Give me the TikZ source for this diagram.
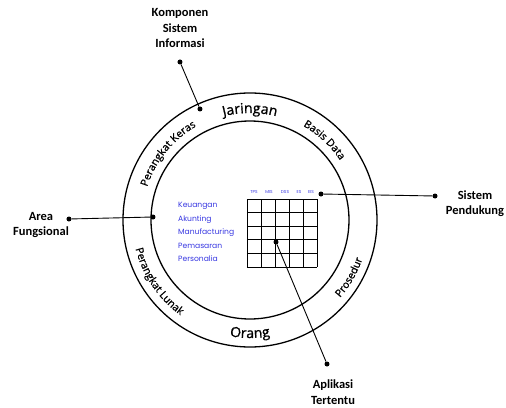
\documentclass[tikz,border=0pt]{standalone}
\usepackage{fontspec}
\setmainfont{Carlito}
\newfontfamily\ringfont[FakeBold=1]{Open Sans}
\newfontfamily\bluefont{Poppins}
\usetikzlibrary{decorations.text}
\definecolor{lblblue}{RGB}{55,55,225}
\begin{document}
\begin{tikzpicture}[x=1pt,y=1pt,
  dot/.style={circle,fill=black,inner sep=0pt,minimum size=5pt},
  lbl/.style={font=\bfseries\fontsize{12.5}{15.5}\selectfont, align=center, inner sep=0pt},
  conn/.style={line width=0.9pt},
  ringline/.style={draw, line width=1.3pt, circle, inner sep=0pt},
  bl/.style={font=\bluefont\fontsize{7.6}{7.6}\selectfont, text=lblblue, anchor=west, inner sep=0pt},
  hd/.style={font=\bluefont\fontsize{4.3}{4.3}\selectfont, text=lblblue, inner sep=0pt},
  gridline/.style={line width=0.7pt}]
\useasboundingbox (-250,-187) rectangle (256,220);
% rings
\node[ringline, minimum size=254pt] (outer) at (0,0) {};
\node[ringline, minimum size=198pt] (inner) at (0,0) {};
% ring labels (top, clockwise)
\path[decorate,decoration={text along path,text align=center,
  text={|\ringfont\fontsize{10.5}{10.5}\selectfont|Perangkat Keras}}]
  (181:108) arc[start angle=181,end angle=101,radius=108];
\path[decorate,decoration={text along path,text align=center,
  text={|\ringfont\fontsize{14}{14}\selectfont|Jaringan}}]
  (130:107) arc[start angle=130,end angle=50,radius=107];
\path[decorate,decoration={text along path,text align=center,
  text={|\ringfont\fontsize{10.5}{10.5}\selectfont|Basis Data}}]
  (87:108) arc[start angle=87,end angle=7,radius=108];
% ring labels (bottom, counterclockwise)
\path[decorate,decoration={text along path,text align=center,
  text={|\ringfont\fontsize{10.5}{10.5}\selectfont|Prosedur}}]
  (-70:119) arc[start angle=-70,end angle=10,radius=119];
\path[decorate,decoration={text along path,text align=center,
  text={|\ringfont\fontsize{14}{14}\selectfont|Orang}}]
  (-130:118) arc[start angle=-130,end angle=-50,radius=118];
\path[decorate,decoration={text along path,text align=center,
  text={|\ringfont\fontsize{10.5}{10.5}\selectfont|Perangkat Lunak}}]
  (-186:118) arc[start angle=-186,end angle=-106,radius=118];
% grid
\foreach \i in {0,...,5} {
  \draw[gridline] (-3+14*\i,21) -- (-3+14*\i,-47);
  \draw[gridline] (-3,21-13.6*\i) -- (67,21-13.6*\i);
}
% header labels
\node[hd] (h1) at (4,28) {TPS};
\node[hd] (h2) at (19,28) {MIS};
\node[hd] (h3) at (35,28) {DSS};
\node[hd] (h4) at (49,28) {ES};
\node[hd] (h5) at (61,28) {EIS};
% blue functional areas
\node[bl] (b1) at (-72,14) {Keuangan};
\node[bl] (b2) at (-72,0.5) {Akunting};
\node[bl] (b3) at (-72,-13) {Manufacturing};
\node[bl] (b4) at (-72,-26) {Pemasaran};
\node[bl] (b5) at (-72,-39) {Personalia};
% callouts
\node[lbl] (komp) at (-70,192) {Komponen\\Sistem\\Informasi};
\node[dot] (kdot) at (-70,158) {};
\node[dot] (rdot) at (-50,111) {};
\draw[conn] (kdot) -- (rdot);

\node[lbl] (area) at (-209,-5) {Area\\Fungsional};
\node[dot] (adot) at (-181,1) {};
\node[dot] (idot) at (-97,3) {};
\draw[conn] (adot) -- (idot);

\node[lbl] (sisp) at (225,16.5) {Sistem\\Pendukung};
\node[dot] (hdot) at (71,26) {};
\node[dot] (spdot) at (185,24) {};
\draw[conn] (hdot) -- (spdot);

\node[lbl] (apl) at (83,-172) {Aplikasi\\Tertentu};
\node[dot] (gdot) at (26,-22) {};
\node[dot] (apdot) at (77,-144) {};
\draw[conn] (gdot) -- (apdot);
\end{tikzpicture}
\end{document}
